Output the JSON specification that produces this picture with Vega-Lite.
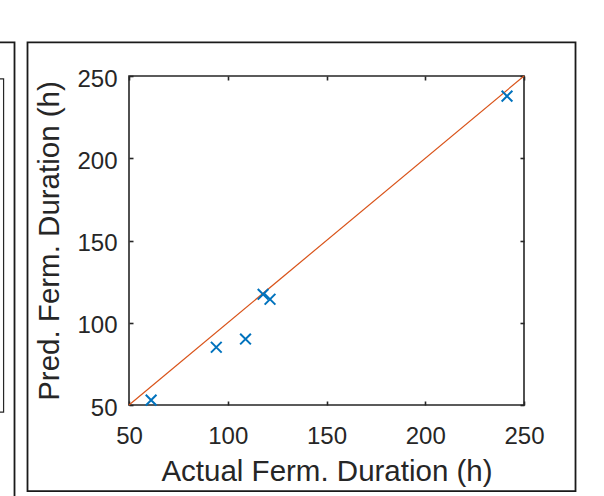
{
  "$schema": "https://vega.github.io/schema/vega-lite/v6.json",
  "autosize": {"type": "none"},
  "padding": {"left": 129, "top": 76, "right": 80, "bottom": 91},
  "width": 395,
  "height": 329,
  "background": "white",
  "config": {
    "view": {"stroke": "#262626", "strokeWidth": 1.6},
    "axis": {
      "labelFont": "Liberation Sans",
      "titleFont": "Liberation Sans",
      "labelFontSize": 24,
      "titleFontSize": 29,
      "labelColor": "#262626",
      "titleColor": "#262626",
      "titleFontWeight": "normal",
      "tickColor": "#262626",
      "tickWidth": 1.6,
      "tickSize": -4,
      "domain": false,
      "grid": false
    }
  },
  "datasets": {
    "pts": [
      {"actual": 61.2, "pred": 53.0},
      {"actual": 94.2, "pred": 85.1},
      {"actual": 109.0, "pred": 90.1},
      {"actual": 117.9, "pred": 117.3},
      {"actual": 121.4, "pred": 114.3},
      {"actual": 241.4, "pred": 237.8}
    ],
    "diag": [{"a1": 50, "p1": 50, "a2": 250, "p2": 250}]
  },
  "layer": [
    {
      "data": {"name": "diag"},
      "mark": {"type": "rule", "color": "#D95319", "strokeWidth": 1.2},
      "encoding": {
        "x": {"field": "a1", "type": "quantitative",
              "scale": {"domain": [50, 250], "nice": false, "zero": false},
              "axis": {"values": [50, 100, 150, 200, 250], "title": "Actual Ferm. Duration (h)", "titleFontSize": 29.5, "labelPadding": 23, "titlePadding": 9, "labelFlush": false}},
        "y": {"field": "p1", "type": "quantitative",
              "scale": {"domain": [50, 250], "nice": false, "zero": false},
              "axis": {"values": [50, 100, 150, 200, 250], "title": "Pred. Ferm. Duration (h)", "titleFontSize": 29.5, "labelPadding": 16, "labelOffset": 3, "titlePadding": 12, "labelFlush": false}},
        "x2": {"field": "a2"},
        "y2": {"field": "p2"}
      }
    },
    {
      "data": {"name": "pts"},
      "mark": {"type": "point", "shape": "M-1,-1L1,1M-1,1L1,-1", "filled": false, "color": "#0072BD", "strokeWidth": 2, "size": 115, "opacity": 1},
      "encoding": {
        "x": {"field": "actual", "type": "quantitative", "axis": {"orient": "top", "values": [50, 100, 150, 200, 250], "labels": false, "title": null}},
        "y": {"field": "pred", "type": "quantitative", "axis": {"orient": "right", "values": [50, 100, 150, 200, 250], "labels": false, "title": null}}
      }
    },
    {
      "data": {"values": [{}]},
      "mark": {"type": "rect", "fill": null, "stroke": "#1a1a1a", "strokeWidth": 1.8, "clip": false},
      "encoding": {
        "x": {"datum": -1.39, "type": "quantitative", "axis": null},
        "x2": {"datum": 276.08},
        "y": {"datum": 270.4, "type": "quantitative", "axis": null},
        "y2": {"datum": -2.3}
      }
    },
    {
      "data": {"values": [{}]},
      "mark": {"type": "rect", "fill": null, "stroke": "#1a1a1a", "strokeWidth": 1.8, "clip": false},
      "encoding": {
        "x": {"datum": -20, "type": "quantitative", "axis": null},
        "x2": {"datum": -7.97},
        "y": {"datum": 270.4, "type": "quantitative", "axis": null},
        "y2": {"datum": -8}
      }
    },
    {
      "data": {"values": [{}]},
      "mark": {"type": "rect", "fill": null, "stroke": "#262626", "strokeWidth": 1.2, "clip": false},
      "encoding": {
        "x": {"datum": -20, "type": "quantitative", "axis": null},
        "x2": {"datum": -13.5},
        "y": {"datum": 248.2, "type": "quantitative", "axis": null},
        "y2": {"datum": 45.7}
      }
    }
  ],
  "resolve": {"axis": {"x": "independent", "y": "independent"}}
}
